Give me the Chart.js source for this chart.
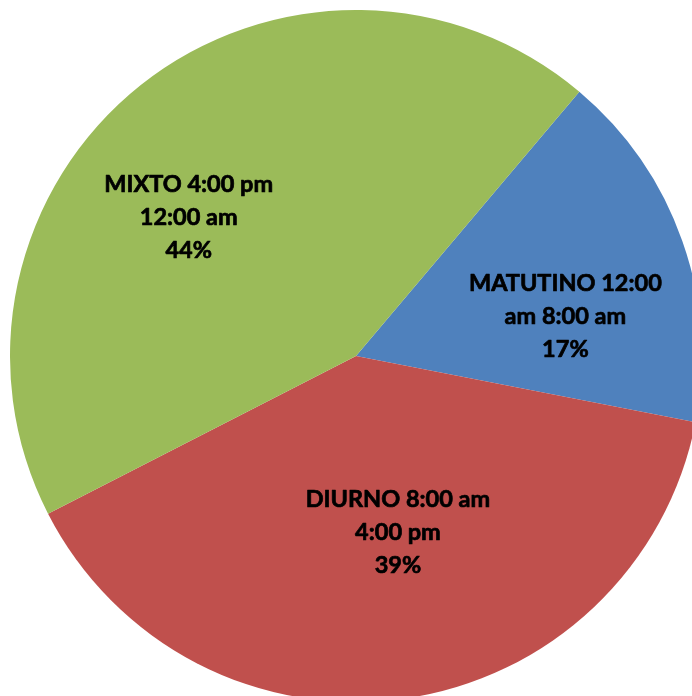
<!DOCTYPE html>
<html>
<head>
<meta charset="utf-8">
<script src="https://cdn.jsdelivr.net/npm/chart.js@4/dist/chart.umd.min.js"></script>
<style>
  html, body { margin: 0; padding: 0; overflow: hidden; background: #fff; }
  #wrap { position: absolute; left: 10px; top: 10px; width: 692px; height: 692px; }
</style>
</head>
<body>
<div id="wrap"><canvas id="pie-chart" width="692" height="692"></canvas></div>
<script>
// turnos y porcentajes
const labels = [
  ["MATUTINO 12:00", "am 8:00 am"],
  ["DIURNO 8:00 am", "4:00 pm"],
  ["MIXTO 4:00 pm", "12:00 am"],
];
const values = [16.9, 39.4, 43.7];
const colors = ["#4F81BD", "#C0504D", "#9BBB59"];

// etiquetas dentro de cada sector (como en Excel)
const pieLabels = {
  id: "pieLabels",
  afterDatasetsDraw(chart, args, opts) {
    const ctx = chart.ctx;
    const meta = chart.getDatasetMeta(0);
    const total = values.reduce((a, b) => a + b, 0);
    ctx.save();
    ctx.font = opts.font;
    ctx.fillStyle = "#000";
    ctx.strokeStyle = "#000";
    ctx.lineWidth = opts.stroke;
    ctx.lineJoin = "round";
    ctx.textAlign = "center";
    ctx.textBaseline = "middle";
    meta.data.forEach((arc, i) => {
      const p = arc.getProps(["x", "y", "startAngle", "endAngle", "outerRadius"]);
      const mid = (p.startAngle + p.endAngle) / 2 + opts.shift[i] * Math.PI / 180;
      const r = p.outerRadius * opts.radius[i];
      const cx = p.x + Math.cos(mid) * r;
      const cy = p.y + Math.sin(mid) * r;
      const lines = labels[i].concat([Math.round(values[i] / total * 100) + "%"]);
      const lh = opts.lineHeight;
      lines.forEach((t, k) => {
        const y = cy + (k - (lines.length - 1) / 2) * lh;
        ctx.strokeText(t, cx, y);
        ctx.fillText(t, cx, y);
      });
    });
    ctx.restore();
  },
};

new Chart(document.getElementById("pie-chart"), {
  type: "pie",
  data: {
    labels: labels,
    datasets: [
      {
        data: values,
        backgroundColor: colors,
        borderWidth: 0,
        hoverOffset: 0,
      },
    ],
  },
  options: {
    responsive: false,
    animation: false,
    rotation: 40.2,
    layout: { padding: 0 },
    plugins: {
      legend: { display: false },
      tooltip: { enabled: false },
      pieLabels: {
        font: "bold 23.5px Lato",
        stroke: 0.7,
        lineHeight: 33,
        shift: [8.6, -5.3, -12.0],
        radius: [0.616, 0.525, 0.627],
      },
    },
  },
  plugins: [pieLabels],
});
</script>
</body>
</html>
